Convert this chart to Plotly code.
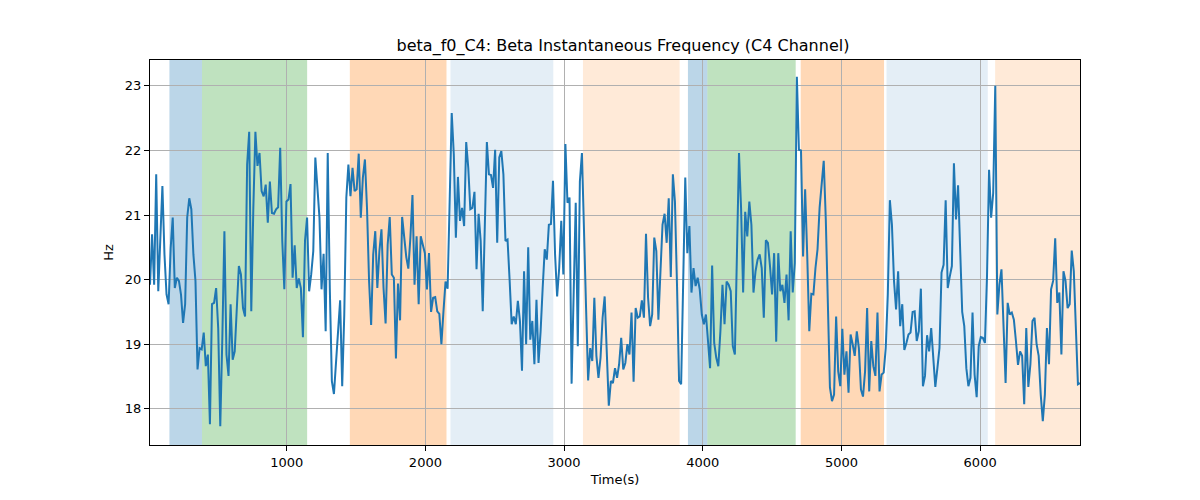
import numpy as np
import plotly.graph_objects as go

# Beta instantaneous frequency values (Hz), in time order
seg1 = [19.92,20.70,19.92,21.63,19.82,20.60,21.45,20.39,19.77,19.62,
        20.49,20.96,19.87,20.03,19.98,19.77,19.33,19.62,20.96,21.26,
        21.09,20.39,19.98,18.61,18.94,18.92,19.18,18.66,18.84,17.76,
        19.62,19.64,19.87,19.25,17.73,19.10,20.75,18.84,18.51,19.62,
        18.76,18.89,19.56,20.21,20.08,19.56,19.43,21.78,22.29,19.51,
        21.11,22.29,21.76,21.96,21.37,21.29]
seg2 = [21.47,20.88,21.52,21.03,21.02,21.09,21.12,22.04,20.60,19.85,
        21.21,21.24,21.48,20.03,20.53,19.87,20.02,19.87,19.11,20.60,
        20.96,19.82,20.08,20.44,21.89,21.42,20.96,19.85,20.40,19.20,
        21.96,19.87,18.43,18.23,18.66,19.20,19.68,18.35,19.46,21.27,
        21.78,21.29,21.73,21.37,21.40,21.95,20.96,21.58,21.86,21.11,
        19.98,19.30,20.39,20.75,19.87,20.44,20.78]
seg3 = [19.87,19.32,20.54,20.97,20.08,20.03,18.78,19.94,19.37,20.97,
        20.60,20.35,20.17,20.65,21.31,19.92,20.67,19.62,20.67,20.54,
        20.41,19.85,20.41,19.50,19.72,19.73,19.51,19.47,19.00,19.51,
        19.97,19.86,21.42,22.58,21.94,20.65,21.59,20.91,21.11,20.83,
        22.13,21.73,21.09,21.11,21.36,20.16,21.02,20.60,19.51,20.80,
        22.13,21.63,21.62,21.42,22.01,20.57,21.89]
seg4 = [21.99,21.63,20.60,20.62,20.00,19.31,19.43,19.31,19.67,19.36,
        18.59,20.13,19.00,20.50,19.07,19.36,18.69,19.69,18.71,19.20,
        19.87,20.47,20.31,20.85,20.86,21.53,20.39,19.74,20.18,20.91,
        20.08,22.10,21.19,21.27,18.39,19.72,21.19,18.97,21.52,21.96,
        20.60,19.56,18.44,18.94,18.74,19.72,18.82,18.48,18.79,19.41,
        19.74,18.74,18.05,18.43,18.40,18.63,18.48]
seg5 = [18.69,19.10,18.61,18.71,19.00,18.84,19.49,18.42,19.56,19.41,
        19.43,19.68,19.41,20.71,19.72,19.28,19.46,20.65,20.44,19.38,
        20.13,20.85,21.02,20.57,21.26,20.04,21.63,21.21,19.92,18.43,
        18.38,19.87,21.58,20.41,20.83,19.80,20.18,19.90,20.03,19.85,
        19.46,19.31,19.46,19.05,18.63,20.22,19.02,18.79,18.66,19.20,
        19.92,19.31,19.97,19.92,19.82,18.97,18.84]
seg6 = [20.39,21.96,21.11,19.80,21.05,20.67,21.21,20.85,19.80,20.13,
        20.31,20.39,20.18,19.41,20.61,20.57,20.21,19.77,20.41,19.04,
        20.41,19.82,19.92,19.64,20.08,19.37,20.75,19.80,20.26,23.14,
        22.01,22.00,20.36,21.40,20.39,19.20,19.78,19.77,20.18,20.47,
        21.11,21.52,21.84,20.93,19.51,18.33,18.12,18.22,19.43,18.58,
        18.35,19.24,18.53,18.89,18.25,19.15,19.00]
seg7 = [18.82,19.20,18.94,18.30,18.19,18.58,19.56,18.27,19.05,18.66,
        18.51,19.49,18.27,18.53,18.56,18.94,19.77,21.23,20.85,19.98,
        19.54,20.13,19.28,19.62,18.91,19.02,19.15,19.18,19.50,19.51,
        19.05,19.20,19.86,18.35,18.51,19.14,18.89,19.25,18.74,18.34,
        18.63,18.94,20.11,20.23,21.23,19.87,20.05,20.21,21.80,20.93,
        21.46,20.49,19.50,19.28,18.63,18.35]
seg8 = [18.48,19.49,18.53,18.18,18.97,19.11,19.10,19.02,20.05,21.70,
        20.96,21.34,23.00,19.46,19.92,20.16,19.31,18.40,19.64,19.46,
        19.49,19.38,19.05,18.68,18.89,18.82,18.07,19.25,18.34,18.69,
        19.36,19.41,19.00,18.82,18.22,17.81,18.22,19.25,18.69,19.85,
        19.98,20.64,19.64,19.80,18.84,20.13,19.98,19.56,19.62,20.45,
        20.13,19.25,18.38,18.40]

freq_hz = seg1 + seg2 + seg3 + seg4 + seg5 + seg6 + seg7 + seg8
t_start, t_end = 14, 6720
time_s = np.linspace(t_start, t_end, len(freq_hz))

# Shaded stage intervals (seconds) and their colours
span_start = [154, 389, 1455, 2181, 3136, 3893, 4033, 4706, 5325, 6108]
span_end   = [389, 1147, 2152, 2922, 3833, 4033, 4670, 5307, 6055, 6720]
span_color = ["rgba(31,119,180,0.3)", "rgba(44,160,44,0.3)", "rgba(255,127,14,0.3)",
              "rgba(31,119,180,0.12)", "rgba(255,127,14,0.16)",
              "rgba(31,119,180,0.3)", "rgba(44,160,44,0.3)", "rgba(255,127,14,0.3)",
              "rgba(31,119,180,0.12)", "rgba(255,127,14,0.16)"]

x_ticks = [1000, 2000, 3000, 4000, 5000, 6000]
y_ticks = [18, 19, 20, 21, 22, 23]

fig = go.Figure()
fig.add_trace(go.Scatter(x=time_s, y=freq_hz, mode="lines",
                         line=dict(color="#1f77b4", width=2), showlegend=False))

for s, e, c in zip(span_start, span_end, span_color):
    fig.add_shape(type="rect", xref="x", yref="paper", x0=s, x1=e, y0=0, y1=1,
                  fillcolor=c, line=dict(width=0), layer="below")

axis_common = dict(showline=True, linecolor="black", linewidth=1, mirror=True,
                   ticks="outside", ticklen=5, tickcolor="black",
                   showgrid=True, gridcolor="#b0b0b0", gridwidth=1,
                   zeroline=False, tickfont=dict(size=13, color="black"))

fig.update_layout(
    width=1200, height=500,
    margin=dict(l=142, r=128, t=52, b=63),
    paper_bgcolor="white", plot_bgcolor="white",
    font=dict(family="DejaVu Sans", color="black"),
    title=dict(text="beta_f0_C4: Beta Instantaneous Frequency (C4 Channel)",
               x=0.5125, xanchor="center", y=0.926, yanchor="middle",
               font=dict(size=16, color="black")),
    xaxis=dict(range=[t_start, t_end], tickvals=x_ticks,
               title=dict(text="Time(s)", font=dict(size=13), standoff=6),
               **axis_common),
    yaxis=dict(range=[17.44, 23.40], tickvals=y_ticks,
               title=dict(text="Hz", font=dict(size=13), standoff=8),
               **axis_common),
)

fig.write_html("out.html")
